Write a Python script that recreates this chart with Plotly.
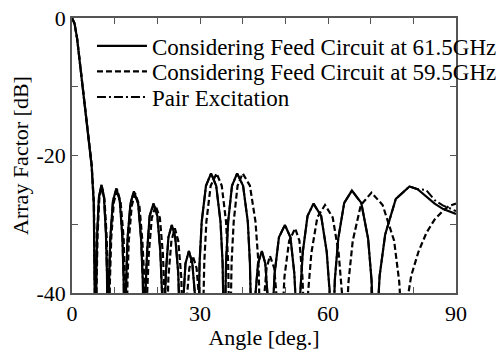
import plotly.graph_objects as go

# ---- data ----
angle_615 = [0, 0.6, 1.2, 2.0, 3.0, 4.0, 4.6, 5.1, 5.5,
             5.7, 5.9, 6.3, 6.9, 7.5, 7.95, 8.2, 8.4,
             8.7, 9.0, 9.6, 10.4, 11.2, 11.8, 12.1, 12.4,
             12.7, 13.0, 13.7, 14.5, 15.5, 16.2, 16.6, 16.9,
             17.2, 17.6, 18.2, 19.1, 20.0, 20.7, 21.1, 21.4,
             21.7, 22.0, 22.6, 23.4, 24.2, 24.9, 25.2, 25.5,
             25.8, 26.1, 26.6, 27.4, 28.2, 28.9, 29.2, 29.5,
             29.9, 30.4, 31.4, 32.6, 33.8, 34.8, 35.3, 35.7,
             36.1, 36.6, 37.5, 38.7, 40.1, 41.2, 41.7, 42.2,
             42.5, 42.9, 43.6, 44.5, 45.3, 45.9, 46.2, 46.5,
             47.0, 47.5, 48.5, 49.9, 51.2, 52.1, 52.6, 53.0,
             53.5, 54.1, 55.2, 56.6, 58.4, 59.7, 60.4, 61.0,
             61.6, 62.4, 63.8, 65.6, 67.8, 69.4, 70.2, 71.0,
             72.1, 73.4, 75.9, 79.1, 81.0, 83.0, 85.0, 87.0, 89.0, 90.0]
db_615 = [0, -0.8, -3.0, -7.3, -12.5, -17.5, -21.5, -27.0, -50,
          -37.3, -31.3, -26.1, -24.3, -26.1, -31.3, -37.3, -50,
          -38.0, -31.8, -26.6, -24.8, -26.6, -31.8, -38.0, -50,
          -38.4, -32.2, -27.0, -25.2, -27.0, -32.2, -38.4, -50,
          -40.0, -34.0, -28.8, -27.0, -28.8, -34.0, -40.0, -50,
          -43.1, -37.1, -31.9, -30.1, -31.9, -37.1, -43.1, -50,
          -46.9, -40.9, -35.7, -33.9, -35.7, -40.9, -46.9, -50,
          -35.6, -29.6, -24.4, -22.6, -24.4, -29.6, -35.6, -50,
          -35.6, -29.6, -24.4, -22.6, -24.4, -29.6, -35.6, -50,
          -46.9, -40.9, -35.7, -33.9, -35.7, -40.9, -46.9, -50,
          -43.1, -37.1, -31.9, -30.1, -31.9, -37.1, -43.1, -50,
          -40.0, -34.0, -28.8, -27.0, -28.8, -34.0, -40.0, -50,
          -38.1, -32.1, -26.9, -25.1, -26.9, -32.1, -38.1, -50,
          -37.5, -31.5, -26.3, -24.5, -24.9, -25.9, -27.0, -27.8, -28.3, -28.5]

angle_595 = [0, 0.6, 1.2, 2.0, 3.0, 4.0, 4.6, 5.15, 5.6,
             5.8, 6.0, 6.4, 7.0, 7.6, 8.1, 8.4, 8.6,
             8.9, 9.2, 9.8, 10.6, 11.4, 12.1, 12.4, 12.7,
             13.0, 13.3, 14.0, 14.8, 15.8, 16.5, 17.0, 17.3,
             17.6, 18.0, 18.7, 19.6, 20.6, 21.3, 21.7, 22.0,
             22.3, 22.6, 23.3, 24.1, 24.9, 25.6, 25.9, 26.2,
             26.5, 26.8, 27.5, 28.3, 29.2, 29.9, 30.2, 30.5,
             31.0, 31.5, 32.5, 33.9, 35.1, 36.1, 36.6, 37.0,
             37.4, 37.9, 38.8, 40.0, 41.7, 43.0, 43.7, 44.3,
             44.6, 44.9, 45.6, 46.4, 47.4, 48.1, 48.5, 48.8,
             49.3, 49.8, 50.9, 52.3, 53.3, 54.0, 54.4, 54.7,
             55.3, 56.1, 57.5, 59.3, 61.1, 62.5, 63.3, 63.9,
             64.8, 65.8, 67.7, 70.2, 72.8, 75.5, 76.7, 77.8,
             78.6, 79.5, 81.2, 83.1, 85.0, 87.0, 88.5, 90.0]
db_595 = [0, -0.8, -3.0, -7.2, -12.3, -17.2, -21.2, -27.0, -50,
          -37.5, -31.5, -26.3, -24.5, -26.3, -31.5, -37.5, -50,
          -38.0, -32.0, -26.8, -25.0, -26.8, -32.0, -38.0, -50,
          -38.5, -32.5, -27.3, -25.5, -27.3, -32.5, -38.5, -50,
          -40.3, -34.3, -29.1, -27.3, -29.1, -34.3, -40.3, -50,
          -43.6, -37.6, -32.4, -30.6, -32.4, -37.6, -43.6, -50,
          -47.6, -41.6, -36.4, -34.6, -36.4, -41.6, -47.6, -50,
          -35.6, -29.6, -24.4, -22.6, -24.4, -29.6, -35.6, -50,
          -35.6, -29.6, -24.4, -22.6, -24.4, -29.6, -35.6, -50,
          -47.6, -41.6, -36.4, -34.6, -36.4, -41.6, -47.6, -50,
          -43.6, -37.6, -32.4, -30.6, -32.4, -37.6, -43.6, -50,
          -40.2, -34.2, -29.0, -27.2, -29.0, -34.2, -40.2, -50,
          -38.4, -32.4, -27.2, -25.4, -27.2, -32.4, -38.4, -50,
          -41.0, -37.5, -34.0, -31.2, -29.3, -28.0, -27.3, -27.0]

pair_angle = list(angle_615)
pair_db = db_615[:-5] + [-25.0, -26.5, -27.3, -27.8, -28.1]

series_names = ["Considering Feed Circuit at 61.5GHz",
                "Considering Feed Circuit at 59.5GHz",
                "Pair Excitation"]

x_ticks = [0, 10, 20, 30, 40, 50, 60, 70, 80, 90]
x_tick_text = ["0", "", "", "30", "", "", "60", "", "", "90"]
y_ticks = [-40, -30, -20, -10, 0]
y_tick_text = ["-40", "", "-20", "", "0"]

FONT = "Liberation Serif, Times New Roman, serif"

fig = go.Figure()
fig.add_trace(go.Scatter(x=angle_615, y=db_615, mode="lines", name=series_names[0],
                         line=dict(color="black", width=2.2), legend="legend"))
fig.add_trace(go.Scatter(x=angle_595, y=db_595, mode="lines", name=series_names[1],
                         line=dict(color="black", width=2.2, dash="6px,3px"), legend="legend2"))
fig.add_trace(go.Scatter(x=pair_angle, y=pair_db, mode="lines", name=series_names[2],
                         line=dict(color="black", width=2.0, dash="9px,3px,2px,3px"), legend="legend3"))

axis_common = dict(
    showgrid=False, zeroline=False, showline=True, linecolor="#555", linewidth=1.5,
    mirror="ticks", ticks="inside", ticklen=6, tickcolor="#555", tickwidth=1.2,
    tickfont=dict(family=FONT, size=22, color="black"),
)

def legend_at(ytop):
    return dict(x=0.052, y=ytop, xanchor="left", yanchor="top",
                bgcolor="rgba(0,0,0,0)", font=dict(family=FONT, size=23, color="black"),
                itemwidth=50)

fig.update_layout(
    width=504, height=350,
    margin=dict(l=72, r=48, t=18, b=57, autoexpand=False),
    paper_bgcolor="white", plot_bgcolor="white",
    font=dict(family=FONT, size=22, color="black"),
    showlegend=True,
    legend=legend_at(0.977),
    legend2=legend_at(0.884),
    legend3=legend_at(0.791),
    xaxis=dict(range=[0, 90], tickvals=x_ticks, ticktext=x_tick_text,
               title=dict(text="Angle [deg.]", font=dict(family=FONT, size=22), standoff=6),
               **axis_common),
    yaxis=dict(range=[-40, 0], tickvals=y_ticks, ticktext=y_tick_text,
               title=dict(text="Array Factor [dB]", font=dict(family=FONT, size=22), standoff=2),
               **axis_common),
)

fig.write_html("out.html")
